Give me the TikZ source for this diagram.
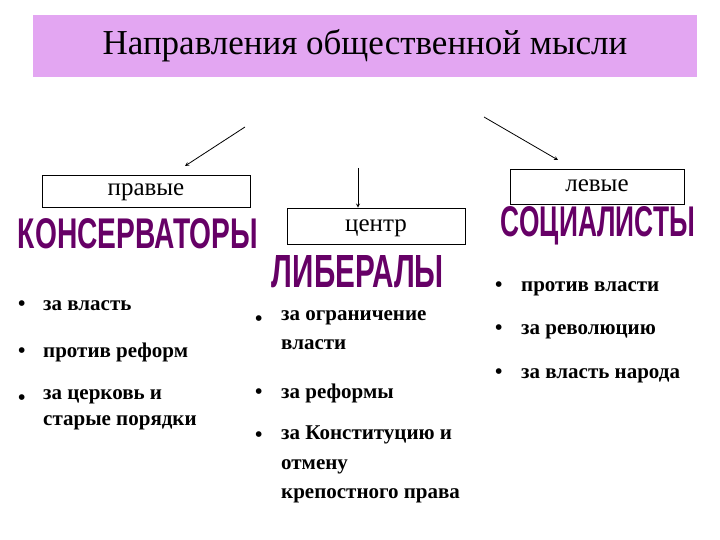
\documentclass[tikz,border=0pt]{standalone}
\usepackage{fontspec}
\setmainfont{Liberation Serif}
\newfontfamily\wa{Liberation Sans}
\usepackage{graphicx}
\definecolor{titlebg}{HTML}{E3A6F2}
\definecolor{wacol}{HTML}{660066}
\newcommand{\wart}[3]{\resizebox{#1pt}{#2pt}{\wa\bfseries #3}}
\begin{document}
\begin{tikzpicture}[x=1pt,y=-1pt,
  lbl/.style={draw,thick,fill=white,font=\fontsize{25}{28}\selectfont,inner sep=0,text height=13pt,text depth=3pt},
  wo/.style={text=wacol,inner sep=0},
  bt/.style={anchor=base west,align=left,inner sep=0,font=\bfseries\fontsize{21}{29}\selectfont},
  bm/.style={anchor=north west,align=left,inner sep=0},
  bd/.style={anchor=base west,inner sep=0,font=\bfseries\fontsize{21}{29}\selectfont},
  arr/.style={-stealth,thick}]
\useasboundingbox (0,0) rectangle (720,540);
\node[fill=titlebg,minimum width=664,minimum height=62,inner sep=0,font=\fontsize{35}{38}\selectfont] (title) at (365,46) {Направления общественной мысли};
\node[lbl,minimum width=208,minimum height=32] (right) at (146,191) {правые};
\node[lbl,minimum width=174,minimum height=35] (left) at (597,187) {левые};
\node[lbl,minimum width=178,minimum height=36] (center) at (376,226) {центр};
\coordinate (a1) at (245,127);
\coordinate (a2) at (484,117);
\coordinate (a3) at (358,168);
\draw[arr] (a1) -- (185,166);
\draw[arr] (a2) -- (558,160);
\draw[arr] (a3) -- (center.north -| a3);
\node[wo] (kons) at (138,234) {\wart{240}{30}{КОНСЕРВАТОРЫ}};
\node[wo] (soc) at (598,226) {\wart{194}{30}{СОЦИАЛИСТЫ}};
\node[wo] (lib) at (358,272) {\wart{172}{32}{ЛИБЕРАЛЫ}};
% left column
\node[bd] (d1) at (18,310) {\textbullet};
\node[bt] (b1) at (43,310) {за власть};
\node[bd] (d2) at (18,357) {\textbullet};
\node[bt] (b2) at (43,357) {против реформ};
\node[bd] (d3) at (18,404) {\textbullet};
\node[bt,bm,font=\bfseries\fontsize{21}{26}\selectfont] (b3) at (43,389) {за церковь и\\старые порядки};
% center column
\node[bd] (e1) at (255,325) {\textbullet};
\node[bt,bm] (c1) at (281,310) {за ограничение\\власти};
\node[bd] (e2) at (255,398) {\textbullet};
\node[bt] (c2) at (281,398) {за реформы};
\node[bd] (e3) at (255,441) {\textbullet};
\node[bt,bm,font=\bfseries\fontsize{21}{29.5}\selectfont] (c3) at (281,426) {за Конституцию и\\отмену\\крепостного права};
% right column
\node[bd] (f1) at (495,291) {\textbullet};
\node[bt] (r1) at (521,291) {против власти};
\node[bd] (f2) at (495,334) {\textbullet};
\node[bt] (r2) at (521,334) {за революцию};
\node[bd] (f3) at (495,378) {\textbullet};
\node[bt] (r3) at (521,378) {за власть народа};
\end{tikzpicture}
\end{document}
